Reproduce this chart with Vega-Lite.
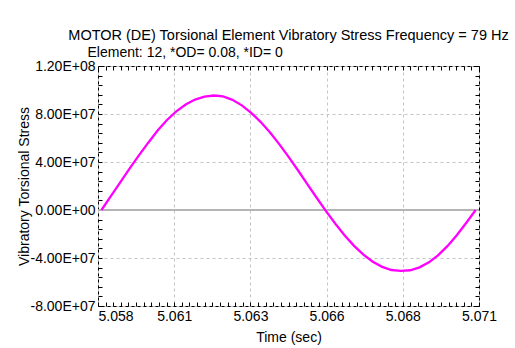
{
  "$schema": "https://vega.github.io/schema/vega-lite/v6.json",
  "autosize": "none",
  "width": 381,
  "height": 240,
  "padding": {"left": 98, "top": 66, "right": 36, "bottom": 42},
  "background": "white",
  "config": {
    "view": {"stroke": "#000000", "strokeWidth": 1},
    "font": "Liberation Sans"
  },
  "title": {
    "text": "MOTOR (DE) Torsional Element Vibratory Stress Frequency = 79 Hz",
    "anchor": "middle",
    "frame": "group",
    "font": "Liberation Sans",
    "fontSize": 14.5,
    "fontWeight": "normal",
    "color": "#000000",
    "offset": 2
  },
  "data": {
    "values": [
      {"time": 5.058316, "stress": 0},
      {"time": 5.058627, "stress": 11500000},
      {"time": 5.058938, "stress": 23000000},
      {"time": 5.059248, "stress": 34400000},
      {"time": 5.059559, "stress": 45500000},
      {"time": 5.05987, "stress": 56100000},
      {"time": 5.060181, "stress": 66200000},
      {"time": 5.060492, "stress": 75000000},
      {"time": 5.060802, "stress": 82200000},
      {"time": 5.061113, "stress": 87900000},
      {"time": 5.061424, "stress": 92000000},
      {"time": 5.061735, "stress": 94500000},
      {"time": 5.062046, "stress": 95400000},
      {"time": 5.062356, "stress": 94600000},
      {"time": 5.062667, "stress": 91800000},
      {"time": 5.062978, "stress": 87200000},
      {"time": 5.063289, "stress": 81000000},
      {"time": 5.0636, "stress": 73500000},
      {"time": 5.06391, "stress": 64700000},
      {"time": 5.064221, "stress": 54900000},
      {"time": 5.064532, "stress": 44300000},
      {"time": 5.064843, "stress": 33100000},
      {"time": 5.065154, "stress": 21600000},
      {"time": 5.065464, "stress": 10200000},
      {"time": 5.065775, "stress": -900000},
      {"time": 5.066086, "stress": -11500000},
      {"time": 5.066397, "stress": -21200000},
      {"time": 5.066708, "stress": -29900000},
      {"time": 5.067018, "stress": -37200000},
      {"time": 5.067329, "stress": -43100000},
      {"time": 5.06764, "stress": -47400000},
      {"time": 5.067951, "stress": -50000000},
      {"time": 5.068262, "stress": -50800000},
      {"time": 5.068572, "stress": -50200000},
      {"time": 5.068883, "stress": -47800000},
      {"time": 5.069194, "stress": -43600000},
      {"time": 5.069505, "stress": -37600000},
      {"time": 5.069816, "stress": -29900000},
      {"time": 5.070126, "stress": -20800000},
      {"time": 5.070437, "stress": -10600000},
      {"time": 5.070748, "stress": 0}
    ]
  },
  "resolve": {"axis": {"x": "independent", "y": "independent"}},
  "layer": [
    {
      "mark": {"type": "rule", "color": "#b4b4b4", "strokeWidth": 1},
      "encoding": {
        "y": {
          "datum": 0,
          "type": "quantitative",
          "scale": {"domain": [-80000000, 120000000], "nice": false, "zero": false},
          "axis": {
            "orient": "left",
            "values": [-80000000, -72000000, -64000000, -56000000, -48000000, -40000000, -32000000, -24000000, -16000000, -8000000, 0, 8000000, 16000000, 24000000, 32000000, 40000000, 48000000, 56000000, 64000000, 72000000, 80000000, 88000000, 96000000, 104000000, 112000000, 120000000],
            "title": "Vibratory Torsional Stress",
            "titleFont": "Liberation Sans",
            "titleFontSize": 14,
            "titleFontWeight": "normal",
            "titleColor": "#000000",
            "titlePadding": -1,
            "labelExpr": "(abs(datum.value/40000000 - round(datum.value/40000000)) > 0.01) ? '' : (datum.value == 0 ? '0.00E+00' : replace(replace(replace(upper(format(datum.value, '.2e')), 'E+8', 'E+08'), 'E+7', 'E+07'), '−', '-'))",
            "labelFont": "Liberation Sans",
            "labelFontSize": 14,
            "labelColor": "#000000",
            "labelPadding": 7,
            "labelOverlap": false,
            "labelBound": false,
            "labelFlush": false,
            "tickSize": -4,
            "tickColor": "#000000",
            "domain": false,
            "grid": true,
            "gridColor": {"condition": {"test": "abs(datum.value/40000000 - round(datum.value/40000000)) < 0.01", "value": "#c4c4c4"}, "value": "transparent"},
            "gridDash": [3, 3]
          }
        }
      }
    },
    {
      "mark": {"type": "line", "color": "#ff00ff", "strokeWidth": 2.3},
      "encoding": {
        "x": {
          "field": "time",
          "type": "quantitative",
          "scale": {"domain": [5.0582, 5.070858], "nice": false, "zero": false},
          "axis": {
            "orient": "bottom",
            "values": [5.0582, 5.058453, 5.058706, 5.058959, 5.059213, 5.059466, 5.059719, 5.059972, 5.060225, 5.060478, 5.060732, 5.060985, 5.061238, 5.061491, 5.061744, 5.061997, 5.062251, 5.062504, 5.062757, 5.06301, 5.063263, 5.063516, 5.06377, 5.064023, 5.064276, 5.064529, 5.064782, 5.065035, 5.065288, 5.065542, 5.065795, 5.066048, 5.066301, 5.066554, 5.066807, 5.067061, 5.067314, 5.067567, 5.06782, 5.068073, 5.068326, 5.06858, 5.068833, 5.069086, 5.069339, 5.069592, 5.069845, 5.070099, 5.070352, 5.070605, 5.070858],
            "title": "Time (sec)",
            "titleFont": "Liberation Sans",
            "titleFontSize": 14,
            "titleFontWeight": "normal",
            "titleColor": "#000000",
            "titlePadding": 7,
            "labelExpr": "(abs((datum.value-5.0582)/0.0025316 - round((datum.value-5.0582)/0.0025316)) < 0.02) ? format(datum.value, '.3f') : ''",
            "labelFont": "Liberation Sans",
            "labelFontSize": 14,
            "labelColor": "#000000",
            "labelPadding": 7,
            "labelOverlap": false,
            "labelBound": false,
            "labelFlush": false,
            "labelAlign": {"condition": {"test": "datum.value < 5.0583", "value": "left"}, "value": "center"},
            "tickSize": -4,
            "tickColor": "#000000",
            "domain": false,
            "grid": true,
            "gridColor": {"condition": {"test": "abs((datum.value-5.0582)/0.0025316 - round((datum.value-5.0582)/0.0025316)) < 0.02", "value": "#c4c4c4"}, "value": "transparent"},
            "gridDash": [3, 3]
          }
        },
        "y": {
          "field": "stress",
          "type": "quantitative",
          "axis": null
        }
      }
    },
    {
      "mark": {"type": "line", "strokeOpacity": 0},
      "encoding": {
        "x": {
          "field": "time",
          "type": "quantitative",
          "axis": {
            "orient": "top",
            "values": [5.0582, 5.058453, 5.058706, 5.058959, 5.059213, 5.059466, 5.059719, 5.059972, 5.060225, 5.060478, 5.060732, 5.060985, 5.061238, 5.061491, 5.061744, 5.061997, 5.062251, 5.062504, 5.062757, 5.06301, 5.063263, 5.063516, 5.06377, 5.064023, 5.064276, 5.064529, 5.064782, 5.065035, 5.065288, 5.065542, 5.065795, 5.066048, 5.066301, 5.066554, 5.066807, 5.067061, 5.067314, 5.067567, 5.06782, 5.068073, 5.068326, 5.06858, 5.068833, 5.069086, 5.069339, 5.069592, 5.069845, 5.070099, 5.070352, 5.070605, 5.070858],
            "labels": false,
            "tickSize": -4,
            "tickColor": "#000000",
            "domain": false,
            "grid": false,
            "title": "Element: 12, *OD= 0.08, *ID= 0",
            "titleFont": "Liberation Sans",
            "titleFontSize": 14,
            "titleFontWeight": "normal",
            "titleColor": "#000000",
            "titleAlign": "left",
            "titleAnchor": "start",
            "titleBaseline": "alphabetic",
            "titleX": -11,
            "titleY": -10
          }
        },
        "y": {
          "field": "stress",
          "type": "quantitative",
          "axis": {
            "orient": "right",
            "values": [-80000000, -72000000, -64000000, -56000000, -48000000, -40000000, -32000000, -24000000, -16000000, -8000000, 0, 8000000, 16000000, 24000000, 32000000, 40000000, 48000000, 56000000, 64000000, 72000000, 80000000, 88000000, 96000000, 104000000, 112000000, 120000000],
            "labels": false,
            "tickSize": -4,
            "tickColor": "#000000",
            "domain": false,
            "grid": false,
            "title": null
          }
        }
      }
    }
  ]
}
